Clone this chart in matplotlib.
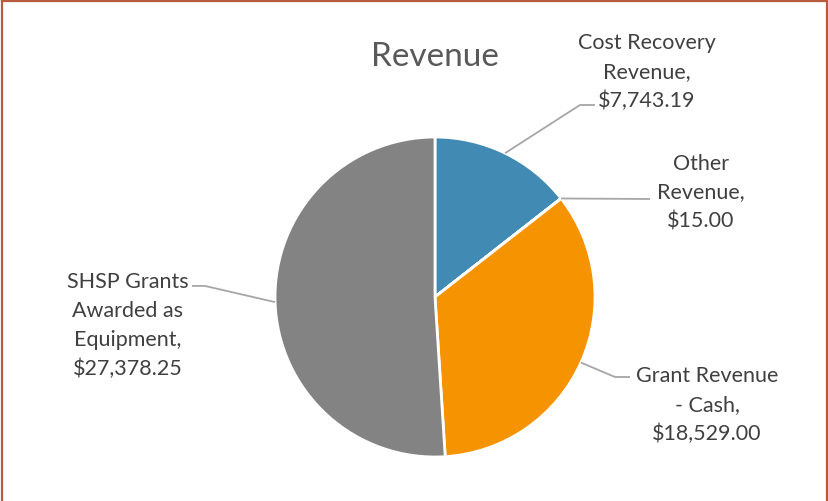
import numpy as np
import matplotlib.pyplot as plt
from matplotlib.lines import Line2D

labels = ["Cost Recovery\nRevenue,\n$7,743.19", "Other\nRevenue,\n$15.00",
          "Grant Revenue\n- Cash,\n$18,529.00", "SHSP Grants\nAwarded as\nEquipment,\n$27,378.25"]
values = [7743.19, 15.00, 18529.00, 27378.25]
colors = ["#418AB3", "#6AA3C4", "#F59300", "#838383"]

plt.rcParams['font.family'] = ['Lato', 'DejaVu Sans']
W, H = 829, 502
fig = plt.figure(figsize=(W / 100, H / 100), dpi=100)

# pie centre (435, 298) px, radius 160 px
cx, cy, r = 435, 298, 160
ax = fig.add_axes([(cx - r) / W, (H - cy - r) / H, 2 * r / W, 2 * r / H])
wedges, _ = ax.pie(values, colors=colors, startangle=90, counterclock=False,
                   wedgeprops=dict(edgecolor="white", linewidth=2))
ax.set_xlim(-1, 1)
ax.set_ylim(-1, 1)
ax.set_aspect("equal")
ax.axis("off")

# label layout (data units, radius = 1)
text_pos = [(1.325, 1.41), (1.66, 0.66), (1.70, -0.67), (-1.92, -0.175)]
elbows = [[(0.906, 1.20), (1.0, 1.20)],
          [(1.344, 0.6125)],
          [(1.125, -0.50), (1.219, -0.50)],
          [(-1.4375, 0.069), (-1.519, 0.069)]]

for w, lab, tp, el in zip(wedges, labels, text_pos, elbows):
    mid = np.deg2rad((w.theta1 + w.theta2) / 2)
    p0 = (np.cos(mid), np.sin(mid))
    pts = [p0] + el
    xs, ys = zip(*pts)
    ax.plot(xs, ys, color="#A6A6A6", lw=1.3, clip_on=False, solid_capstyle="butt")
    ax.text(tp[0], tp[1], lab, ha="center", va="center", fontsize=15.5,
            color="#404040", linespacing=1.55, clip_on=False)

fig.text(435 / W, 1 - 57 / H, "Revenue", ha="center", va="center",
         fontsize=24, color="#595959")

# outer border
bc = "#B85A3C"
fig.add_artist(Line2D([2 / W, 2 / W], [0, 1 - 1.5 / H], color=bc, lw=1.6))
fig.add_artist(Line2D([2 / W, 1 - 2 / W], [1 - 1.5 / H, 1 - 1.5 / H], color=bc, lw=1.6))
fig.add_artist(Line2D([1 - 2 / W, 1 - 2 / W], [0, 1 - 1.5 / H], color=bc, lw=1.6))

fig.savefig("out.png", dpi=100, facecolor="white")
